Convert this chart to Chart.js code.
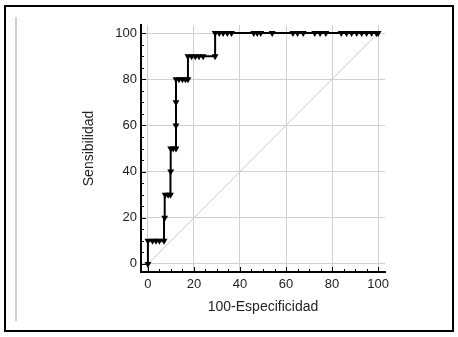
<!DOCTYPE html>
<html lang="es">
<head>
    <meta charset="UTF-8">
    <title>Curva ROC</title>
    <script src="https://cdn.jsdelivr.net/npm/chart.js"></script>
    <style>
        html, body {
            margin: 0;
            padding: 0;
            background: #fff;
        }
        .wrap {
            position: relative;
            width: 458px;
            height: 337px;
        }
        .frame {
            position: absolute;
            left: 4px;
            top: 5px;
            width: 446px;
            height: 323px;
            border: 2px solid #000;
        }
        .side {
            position: absolute;
            left: 15px;
            top: 17px;
            width: 2px;
            height: 304px;
            background: #d0d0d0;
        }
        canvas {
            position: absolute;
            left: 0;
            top: 0;
        }
    </style>
</head>
<body>
    <div class="wrap">
        <div class="frame"></div>
        <div class="side"></div>
        <canvas id="rocChart" width="458" height="337"></canvas>
    </div>

    <script>
        // 100-Especificidad (x) and Sensibilidad (y) of each criterion point
        const fpr = [0, 0, 2, 3.5, 5, 7, 7.3, 7.5, 8.8, 9.8, 9.9, 9.9, 11, 12.2, 12.2, 12.2,
            12.2, 13.5, 15, 16.3, 17.4, 17.4, 19, 20.6, 22.2, 24, 29.2,
            29.2, 31, 32.7, 34.5, 36.3, 46, 47.5, 49, 54, 63, 65, 67.5, 72.5, 74.8, 77.3,
            84, 86.3, 88.5, 90.7, 92.9, 95, 97.2, 99.3, 100];
        const sens = [0, 10, 10, 10, 10, 10, 20, 30, 30, 30, 40, 50, 50, 50, 60, 70,
            80, 80, 80, 80, 80, 90, 90, 90, 90, 90, 90,
            100, 100, 100, 100, 100, 100, 100, 100, 100, 100, 100, 100, 100, 100, 100,
            100, 100, 100, 100, 100, 100, 100, 100, 100];

        // reference diagonal
        const diagX = [0, 100];
        const diagY = [0, 100];

        const majorTicks = [0, 20, 40, 60, 80, 100];
        const minorTicks = [0, 5, 10, 15, 20, 25, 30, 35, 40, 45, 50, 55, 60, 65, 70, 75, 80, 85, 90, 95, 100];

        const textColor = '#222';
        const gridColor = '#d0d0d0';
        const fontFamily = 'Liberation Sans, Arial, sans-serif';

        // ticks drawn inside the plot, on the axis lines
        const innerTicks = {
            id: 'innerTicks',
            afterDraw(chart) {
                const ctx = chart.ctx;
                const xs = chart.scales.x, ys = chart.scales.y;
                const area = chart.chartArea;
                ctx.save();
                ctx.strokeStyle = '#000';
                ctx.lineWidth = 1;
                ctx.beginPath();
                minorTicks.forEach(v => {
                    const len = majorTicks.includes(v) ? 5 : 3;
                    const px = Math.round(xs.getPixelForValue(v)) + 0.5;
                    ctx.moveTo(px, area.bottom);
                    ctx.lineTo(px, area.bottom - len);
                    const py = Math.round(ys.getPixelForValue(v)) + 0.5;
                    ctx.moveTo(area.left, py);
                    ctx.lineTo(area.left + len, py);
                });
                ctx.stroke();
                ctx.restore();
            }
        };

        const ctx = document.getElementById('rocChart').getContext('2d');
        new Chart(ctx, {
            type: 'scatter',
            data: {
                datasets: [{
                    data: fpr.map((x, i) => ({ x: x, y: sens[i] })),
                    showLine: true,
                    stepped: 'after',
                    borderColor: '#000',
                    borderWidth: 2,
                    pointStyle: 'triangle',
                    pointRotation: 180,
                    pointRadius: 4,
                    pointBackgroundColor: '#000',
                    pointBorderColor: '#000',
                    pointBorderWidth: 0
                }, {
                    data: diagX.map((x, i) => ({ x: x, y: diagY[i] })),
                    showLine: true,
                    borderColor: '#c8c8c8',
                    borderWidth: 1,
                    pointRadius: 0
                }]
            },
            options: {
                responsive: false,
                animation: false,
                layout: { padding: { left: 76, right: 73, top: 25, bottom: 20 } },
                plugins: {
                    legend: { display: false },
                    tooltip: { enabled: false }
                },
                scales: {
                    x: {
                        type: 'linear',
                        min: -3,
                        max: 103,
                        afterBuildTicks: s => { s.ticks = majorTicks.map(v => ({ value: v })); },
                        afterFit: s => { s.height = 45; },
                        grid: { color: gridColor, lineWidth: 1, drawTicks: false },
                        border: { display: true, color: '#000', width: 2 },
                        ticks: {
                            color: textColor,
                            padding: 5,
                            maxRotation: 0,
                            font: { family: fontFamily, size: 13 }
                        },
                        title: {
                            display: true,
                            text: '100-Especificidad',
                            color: textColor,
                            padding: { top: 0, bottom: 1 },
                            font: { family: fontFamily, size: 14 }
                        }
                    },
                    y: {
                        type: 'linear',
                        min: -3.5,
                        max: 103.5,
                        afterBuildTicks: s => { s.ticks = majorTicks.map(v => ({ value: v })); },
                        afterFit: s => { s.width = 65; },
                        grid: { color: gridColor, lineWidth: 1, drawTicks: false },
                        border: { display: true, color: '#000', width: 2 },
                        ticks: {
                            color: textColor,
                            padding: 4,
                            font: { family: fontFamily, size: 13 }
                        },
                        title: {
                            display: true,
                            text: 'Sensibilidad',
                            color: textColor,
                            padding: { top: 5, bottom: 0 },
                            font: { family: fontFamily, size: 14 }
                        }
                    }
                }
            },
            plugins: [innerTicks]
        });
    </script>
</body>
</html>
